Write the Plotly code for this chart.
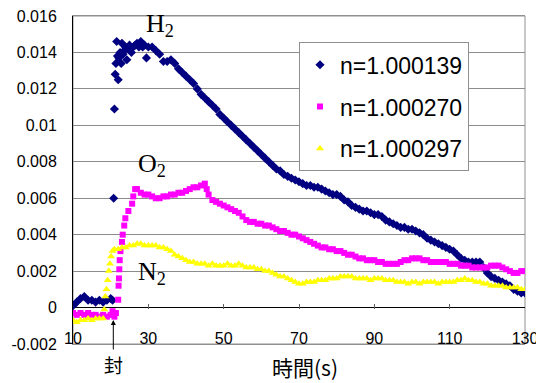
import plotly.graph_objects as go

# ---------------- data ----------------
h2_t = [10, 11, 12, 13, 14, 15, 16, 17, 18, 19, 20, 20.5,
        20.8, 21.0, 21.2, 21.4, 21.6, 21.8, 22.0, 22.2, 22.5, 22.8, 23.0, 23.3, 23.6, 24.0,
        24.3, 24.6, 25.0, 25.5, 26.0, 26.5, 27.0, 27.5, 28.0, 28.5, 29.0, 29.5,
        30, 31, 32, 33, 34, 35, 36, 37, 38, 39, 40, 41, 42, 43, 44, 45, 46, 47, 48, 49,
        50, 51, 52, 53, 54, 55, 56, 57, 58, 59, 60, 61, 62, 63, 64, 65, 66, 67, 68, 69,
        70, 71, 72, 73, 74, 75, 76, 77, 78, 79, 80, 81, 82, 83, 84, 85, 86, 87, 88, 89,
        90, 91, 92, 93, 94, 95, 96, 97, 98, 99, 100, 101, 102, 103, 104, 105, 106, 107, 108, 109,
        110, 111, 112, 113, 114, 115, 116, 117, 118, 119, 120, 121, 122, 123, 124, 125, 126, 127, 128, 129, 130]
h2_v = [0.0001, 0.0003, 0.0005, 0.0006, 0.0004, 0.0004, 0.0003, 0.0004, 0.0003, 0.0004, 0.0005, 0.0004,
        0.0060, 0.0109, 0.0128, 0.0134, 0.0146, 0.0138, 0.0125, 0.0137, 0.0140, 0.0134, 0.0145, 0.0139, 0.0141, 0.0143,
        0.0136, 0.0142, 0.0144, 0.0140, 0.0143, 0.0144, 0.0145, 0.0143, 0.0146, 0.0143, 0.0144, 0.0137,
        0.0143, 0.0143, 0.0141, 0.0139, 0.0135, 0.0135, 0.0136, 0.0134, 0.0131, 0.0129, 0.0127, 0.0125, 0.0123, 0.0120, 0.0117, 0.0115, 0.0113, 0.0111, 0.0109, 0.0106,
        0.0104, 0.0102, 0.0100, 0.0098, 0.0096, 0.0094, 0.0092, 0.0090, 0.0088, 0.0086, 0.0084, 0.0082, 0.0080, 0.0078, 0.0076, 0.0075, 0.0073, 0.0072, 0.0071, 0.0070,
        0.0069, 0.0068, 0.0067, 0.0067, 0.0066, 0.0066, 0.0065, 0.0064, 0.0063, 0.0062, 0.0062, 0.0061, 0.0059, 0.0058, 0.0056, 0.0055, 0.0054, 0.0053, 0.0053, 0.0052,
        0.0051, 0.0051, 0.0050, 0.0048, 0.0047, 0.0046, 0.0045, 0.0044, 0.0044, 0.0043, 0.0043, 0.0042, 0.0041, 0.0040, 0.0038, 0.0037, 0.0036, 0.0035, 0.0034, 0.0033,
        0.0032, 0.0031, 0.0029, 0.0027, 0.0026, 0.0025, 0.0025, 0.0025, 0.0025, 0.0022, 0.0019, 0.0017, 0.0016, 0.0015, 0.0014, 0.0013, 0.0012, 0.0010, 0.0009, 0.0008, 0.0008]

o2_t = [10, 11, 12, 13, 14, 15, 16, 17, 18, 19, 20, 20.5, 21, 21.4,
        22.0, 22.1, 22.2, 22.3, 22.4, 22.6, 23.0, 23.2, 23.6, 23.9, 24.7, 25.7, 26.0, 26.5,
        27, 28, 29, 30, 31, 32, 33, 34, 35, 36, 37, 38, 39, 40, 41, 42, 43, 44, 45, 45.5, 46, 47, 48, 49,
        50, 51, 52, 53, 54, 55, 56, 57, 58, 59, 60, 61, 62, 63, 64, 65, 66, 67, 68, 69,
        70, 71, 72, 73, 74, 75, 76, 77, 78, 79, 80, 81, 82, 83, 84, 85, 86, 87, 88, 89,
        90, 91, 92, 93, 94, 95, 96, 97, 98, 99, 100, 101, 102, 103, 104, 105, 106, 107, 108, 109,
        110, 111, 112, 113, 114, 115, 116, 117, 118, 119, 120, 121, 122, 123, 124, 125, 126, 127, 128, 129, 130]
o2_v = [-0.0003, -0.0004, -0.0003, -0.0004, -0.0003, -0.0004, -0.0004, -0.0005, -0.0004, -0.0005, -0.0004, -0.0002, -0.0005, -0.0003,
        0.00043, 0.0012, 0.0016, 0.0021, 0.0026, 0.0031, 0.0036, 0.0040, 0.0045, 0.0049, 0.0053, 0.0057, 0.0061, 0.0065,
        0.0065, 0.0063, 0.0062, 0.0062, 0.0061, 0.0060, 0.0060, 0.0061, 0.0061, 0.0062, 0.0062, 0.0063, 0.0063, 0.0064, 0.0065, 0.0066, 0.0066, 0.0067, 0.0068, 0.0065, 0.0062, 0.0059, 0.0058, 0.0057,
        0.0056, 0.0055, 0.0054, 0.0053, 0.0052, 0.0050, 0.0048, 0.0047, 0.0047, 0.0046, 0.0046, 0.0045, 0.0045, 0.0044, 0.0043, 0.0042, 0.0042, 0.0041, 0.0040, 0.0040,
        0.0039, 0.0038, 0.0037, 0.0036, 0.0035, 0.0034, 0.0033, 0.0033, 0.0032, 0.0032, 0.0031, 0.0031, 0.0030, 0.0029, 0.0029, 0.0028, 0.0027, 0.0027, 0.0026, 0.0026,
        0.0026, 0.0025, 0.0025, 0.0024, 0.0024, 0.0024, 0.0024, 0.0025, 0.0026, 0.0026, 0.0027, 0.0027, 0.0027, 0.0026, 0.0026, 0.0025, 0.0025, 0.0025, 0.0025, 0.0025,
        0.0024, 0.0024, 0.0024, 0.0023, 0.0023, 0.0023, 0.0022, 0.0022, 0.0022, 0.0022, 0.0022, 0.0023, 0.0023, 0.0023, 0.0022, 0.0021, 0.0020, 0.0019, 0.0019, 0.0020, 0.0020]

n2_t = [10, 11, 12, 13, 14, 15, 16, 17, 18, 18.3, 18.6, 18.9, 19.2, 19.5, 19.8, 20.1, 20.5,
        21, 22, 23, 24, 25, 26, 27, 28, 29, 30, 31, 32, 33, 34, 35, 36, 37, 38, 39, 40, 41, 42, 43, 44, 45, 46, 47, 48, 49,
        50, 51, 52, 53, 54, 55, 56, 57, 58, 59, 60, 61, 62, 63, 64, 65, 66, 67, 68, 69,
        70, 71, 72, 73, 74, 75, 76, 77, 78, 79, 80, 81, 82, 83, 84, 85, 86, 87, 88, 89,
        90, 91, 92, 93, 94, 95, 96, 97, 98, 99, 100, 101, 102, 103, 104, 105, 106, 107, 108, 109,
        110, 111, 112, 113, 114, 115, 116, 117, 118, 119, 120, 121, 122, 123, 124, 125, 126, 127, 128, 129, 130]
n2_v = [-0.0007, -0.0008, -0.0007, -0.0007, -0.0006, -0.0007, -0.0006, -0.0006, -0.0006, -0.0001, 0.0006, 0.0010, 0.0015, 0.0020, 0.0024, 0.0028, 0.0031,
        0.0032, 0.0032, 0.0033, 0.0033, 0.0034, 0.0034, 0.0035, 0.0035, 0.0034, 0.0034, 0.0034, 0.0034, 0.0033, 0.0033, 0.0032, 0.0031, 0.0029, 0.0028, 0.0027, 0.0026, 0.0025, 0.0025, 0.0024, 0.0024, 0.0024, 0.0023, 0.0024, 0.0023, 0.0023,
        0.0023, 0.0024, 0.0023, 0.0023, 0.0024, 0.0023, 0.0022, 0.0022, 0.0022, 0.0021, 0.0021, 0.0020, 0.0020, 0.0019, 0.0018, 0.0017, 0.0017, 0.0016, 0.0015, 0.0014,
        0.0013, 0.0013, 0.0014, 0.0014, 0.0014, 0.0015, 0.0015, 0.0015, 0.0016, 0.0016, 0.0016, 0.0017, 0.0017, 0.0017, 0.0017, 0.0016, 0.0016, 0.0016, 0.0016, 0.0015,
        0.0016, 0.0016, 0.0016, 0.0015, 0.0015, 0.0015, 0.0014, 0.0014, 0.0014, 0.0013, 0.0014, 0.0014, 0.0013, 0.0014, 0.0014, 0.0014, 0.0014, 0.0013, 0.0014, 0.0014,
        0.0014, 0.0014, 0.0015, 0.0015, 0.0016, 0.0015, 0.0015, 0.0014, 0.0014, 0.0013, 0.0013, 0.0012, 0.0012, 0.0012, 0.0012, 0.0011, 0.0011, 0.0011, 0.0011, 0.0010, 0.0010]

series_names = ["n=1.000139", "n=1.000270", "n=1.000297"]
x_tickvals = [10, 30, 50, 70, 90, 110, 130]
x_ticktext = ["10", "30", "50", "70", "90", "110", "130"]
y_tickvals = [-0.002, 0, 0.002, 0.004, 0.006, 0.008, 0.01, 0.012, 0.014, 0.016]
y_ticktext = ["-0.002", "0", "0.002", "0.004", "0.006", "0.008", "0.01", "0.012", "0.014", "0.016"]

# ---------------- figure ----------------
fig = go.Figure()
fig.add_trace(go.Scatter(x=h2_t, y=h2_v, mode="markers", name=series_names[0], legendgroup="a",
                         marker=dict(symbol="diamond", size=7, color="#000080", line=dict(width=0))))
fig.add_trace(go.Scatter(x=o2_t, y=o2_v, mode="markers", name=series_names[1], legendgroup="b",
                         marker=dict(symbol="square", size=6, color="#FF00FF", line=dict(width=0))))
fig.add_trace(go.Scatter(x=n2_t, y=n2_v, mode="markers", name=series_names[2], legendgroup="c",
                         marker=dict(symbol="triangle-up", size=7, color="#FFFF00", line=dict(width=0))))
fig.add_trace(go.Scatter(x=[], y=[], xaxis="x2", showlegend=False, hoverinfo="skip"))
fig.add_trace(go.Scatter(x=[], y=[], xaxis="x3", showlegend=False, hoverinfo="skip"))

tick_font = dict(family="Liberation Sans, Arial, sans-serif", size=16, color="black")

# the page body adds an 8 px offset, so the figure is 8 px smaller on each side
fig.update_layout(
    width=536, height=375,
    margin=dict(l=65, r=19, t=8, b=39, autoexpand=False),
    paper_bgcolor="white", plot_bgcolor="white",
    xaxis=dict(range=[10, 130], showticklabels=False, showgrid=False, automargin=False,
               zeroline=False, showline=True, linecolor="#909090", linewidth=1, mirror=True,
               ticks=""),
    xaxis2=dict(range=[10, 130], overlaying="x", anchor="free", position=35.5 / 328,
                tickvals=x_tickvals, showticklabels=False, ticks="inside", ticklen=5,
                tickcolor="#606060", showgrid=False, zeroline=False, showline=False,
                automargin=False),
    xaxis3=dict(range=[10, 130], overlaying="x", anchor="free", position=17 / 328,
                tickvals=x_tickvals, ticktext=x_ticktext, ticks="", showgrid=False,
                zeroline=False, showline=False, automargin=False, tickfont=tick_font,
                ticklabeloverflow="allow"),
    yaxis=dict(range=[-0.002, 0.016], tickvals=y_tickvals, ticktext=y_ticktext,
               showgrid=True, gridcolor="#8c8c8c", gridwidth=1, automargin=False,
               zeroline=True, zerolinecolor="black", zerolinewidth=1,
               showline=True, linecolor="black", linewidth=1, ticks="",
               ticklabelstandoff=12, tickfont=tick_font, ticklabeloverflow="allow"),
    legend=dict(x=0.5, y=0.92, xanchor="left", yanchor="top", bgcolor="white",
                bordercolor="#909090", borderwidth=1, tracegroupgap=9,
                font=dict(family="Liberation Sans, Arial, sans-serif", size=23, color="black")),
    showlegend=True,
    shapes=[dict(type="rect", xref="paper", yref="paper", x0=0, y0=0, x1=1, y1=1,
                 line=dict(color="#909090", width=1), layer="below")],
)

serif = dict(family="Liberation Serif, Times New Roman, serif", size=26, color="black")
fig.add_annotation(x=33.2, y=0.0155, text="H<sub>2</sub>", showarrow=False, font=serif)
fig.add_annotation(x=31.1, y=0.0078, text="O<sub>2</sub>", showarrow=False, font=serif)
fig.add_annotation(x=31.1, y=0.00188, text="N<sub>2</sub>", showarrow=False, font=serif)
# arrow and 封
fig.add_annotation(x=20.7, y=-0.00068, ax=0, ay=31, text="", showarrow=True, arrowhead=2,
                   arrowsize=1, arrowwidth=1, arrowcolor="black")
fig.add_annotation(xref="paper", yref="paper", x=0.0893, y=-0.064, xanchor="center",
                   yanchor="middle", text="封", showarrow=False,
                   font=dict(family="Noto Sans CJK JP", size=19, color="black"))
fig.add_annotation(xref="paper", yref="paper", x=0.514, y=-0.069, xanchor="center",
                   yanchor="middle", text="時間(s)", showarrow=False,
                   font=dict(family="Noto Sans CJK JP", size=21, color="black"))

fig.write_html("out.html")
